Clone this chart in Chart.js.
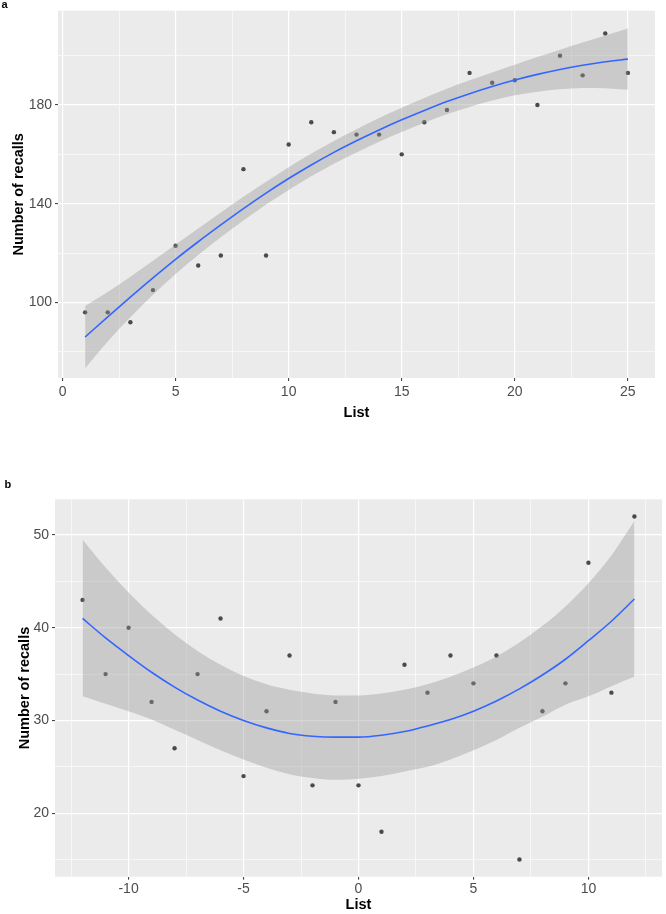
<!DOCTYPE html>
<html>
<head>
<meta charset="utf-8">
<title>Number of recalls by list</title>
<script src="https://cdn.jsdelivr.net/npm/chart.js@4.4.1/dist/chart.umd.min.js"></script>
<style>
  body { margin: 0; background: #fff; }
  #page { position: relative; width: 666px; height: 914px; overflow: hidden; }
  canvas { position: absolute; left: 0; }
  .tag { position: absolute; z-index: 2; font: bold 11px "Liberation Sans", Arial, sans-serif; color: #000; }
</style>
</head>
<body>
<div id="page">
  <canvas id="chartA" width="666" height="430" style="top:0"></canvas>
  <canvas id="chartB" width="666" height="454" style="top:460px"></canvas>
  <div class="tag" style="left:1.5px;top:-2.5px">a</div>
  <div class="tag" style="left:4.5px;top:478px">b</div>
</div>
<script>
// panel a
const listA = [1, 2, 3, 4, 5, 6, 7, 8, 9, 10, 11, 12, 13, 14, 15, 16, 17, 18, 19, 20, 21, 22, 23, 24, 25];
const recallsA = [96, 96, 92, 105, 123, 115, 119, 154, 119, 164, 173, 169, 168, 168, 160, 173, 178, 193, 189, 190, 180, 200, 192, 209, 193];
const fitA = [86.0, 94.2, 102.2, 110.0, 117.5, 124.6, 131.4, 138.0, 144.3, 150.2, 155.7, 160.8, 165.5, 169.9, 174.0, 177.8, 181.4, 184.6, 187.5, 190.1, 192.4, 194.4, 196.1, 197.5, 198.6];
const upperA = [98.6, 104.2, 110.4, 116.9, 123.5, 130.0, 136.4, 142.8, 148.9, 154.8, 160.3, 165.4, 170.2, 174.7, 178.9, 182.8, 186.6, 190.0, 193.2, 196.3, 199.4, 202.4, 205.3, 208.2, 211.0];
const lowerA = [73.4, 84.2, 94.0, 103.1, 111.5, 119.2, 126.4, 133.2, 139.7, 145.6, 151.1, 156.2, 160.8, 165.1, 169.1, 172.8, 176.2, 179.2, 181.8, 183.9, 185.4, 186.4, 186.9, 186.8, 186.2];
const xMajorA = [0, 5, 10, 15, 20, 25];
const xMinorA = [2.5, 7.5, 12.5, 17.5, 22.5];
const yMajorA = [100, 140, 180];
const yMinorA = [80, 120, 160, 200];

// panel b
const listB = [-12, -11, -10, -9, -8, -7, -6, -5, -4, -3, -2, -1, 0, 1, 2, 3, 4, 5, 6, 7, 8, 9, 10, 11, 12];
const recallsB = [43, 35, 40, 32, 27, 35, 41, 24, 31, 37, 23, 32, 23, 18, 36, 33, 37, 34, 37, 15, 31, 34, 47, 33, 52];
const fitB = [41.0, 38.9, 37.0, 35.2, 33.6, 32.2, 31.0, 30.0, 29.2, 28.6, 28.3, 28.2, 28.2, 28.4, 28.8, 29.4, 30.1, 31.0, 32.1, 33.4, 34.9, 36.6, 38.6, 40.7, 43.1];
const upperB = [49.5, 46.5, 43.8, 41.4, 39.3, 37.5, 36.0, 34.8, 33.9, 33.3, 32.9, 32.7, 32.7, 32.9, 33.3, 33.9, 34.7, 35.7, 36.9, 38.4, 40.2, 42.3, 44.8, 47.8, 51.5];
const lowerB = [32.6, 31.8, 31.0, 30.1, 29.0, 27.9, 26.8, 25.8, 24.9, 24.2, 23.8, 23.6, 23.7, 24.0, 24.5, 25.0, 25.8, 26.8, 27.9, 29.2, 30.4, 31.7, 32.6, 33.7, 34.7];
const xMajorB = [-10, -5, 0, 5, 10];
const xMinorB = [-12.5, -7.5, -2.5, 2.5, 7.5, 12.5];
const yMajorB = [20, 30, 40, 50];
const yMinorB = [15, 25, 35, 45];

const FONT = 'Liberation Sans';

// grey panel behind the grid
const panelBg = {
    id: 'panelBg',
    beforeDraw(chart) {
        const ctx = chart.ctx;
        const a = chart.chartArea;
        ctx.save();
        ctx.fillStyle = '#ebebeb';
        ctx.fillRect(a.left, a.top, a.right - a.left, a.bottom - a.top);
        ctx.restore();
    }
};

function toPoints(xs, ys) {
    return xs.map((x, i) => ({ x: x, y: ys[i] }));
}

function isMajor(majors, c) {
    return c.tick && majors.includes(c.tick.value);
}

function axis(o) {
    const all = o.majors.concat(o.minors).sort((a, b) => a - b);
    return {
        type: 'linear',
        position: o.horizontal ? 'bottom' : 'left',
        min: o.min,
        max: o.max,
        afterBuildTicks: s => { s.ticks = all.map(v => ({ value: v })); },
        afterFit: s => {
            if (o.horizontal) s.height = o.size;
            else s.width = o.size;
        },
        border: { display: false },
        grid: {
            color: '#ffffff',
            lineWidth: c => isMajor(o.majors, c) ? 1.2 : 0.6,
            tickLength: 3,
            tickWidth: 1,
            tickColor: c => isMajor(o.majors, c) ? '#333333' : 'rgba(0,0,0,0)'
        },
        ticks: {
            autoSkip: false,
            maxRotation: 0,
            padding: o.tickPad,
            color: '#4d4d4d',
            font: { family: FONT, size: 14, lineHeight: 1.1 },
            callback: v => o.majors.includes(v) ? String(v) : ''
        },
        title: {
            display: true,
            text: o.title,
            color: '#000000',
            font: { family: FONT, size: 14.5, weight: 'bold', lineHeight: 1.2 },
            padding: o.horizontal ? { top: 0, bottom: o.titlePad } : { top: o.titlePad, bottom: 0 }
        }
    };
}

function makeChart(id, xs, ys, fit, upper, lower, xAxis, yAxis, padding) {
    return new Chart(document.getElementById(id), {
        type: 'scatter',
        data: {
            datasets: [
                {
                    type: 'line',
                    data: toPoints(xs, fit),
                    borderColor: '#3366ff',
                    borderWidth: 1.6,
                    pointRadius: 0,
                    cubicInterpolationMode: 'monotone',
                    fill: false,
                    order: 0
                },
                {
                    type: 'line',
                    data: toPoints(xs, upper),
                    borderWidth: 0,
                    borderColor: 'rgba(0,0,0,0)',
                    backgroundColor: 'rgba(153,153,153,0.4)',
                    pointRadius: 0,
                    cubicInterpolationMode: 'monotone',
                    fill: '+1',
                    order: 1
                },
                {
                    type: 'line',
                    data: toPoints(xs, lower),
                    borderWidth: 0,
                    borderColor: 'rgba(0,0,0,0)',
                    pointRadius: 0,
                    cubicInterpolationMode: 'monotone',
                    fill: false,
                    order: 1
                },
                {
                    data: toPoints(xs, ys),
                    pointRadius: 2.2,
                    pointBorderWidth: 0,
                    backgroundColor: '#4a4a4a',
                    order: 2
                }
            ]
        },
        options: {
            responsive: false,
            animation: false,
            layout: { padding: padding },
            plugins: {
                legend: { display: false },
                tooltip: { enabled: false }
            },
            scales: { x: xAxis, y: yAxis }
        },
        plugins: [panelBg]
    });
}

makeChart('chartA', listA, recallsA, fitA, upperA, lowerA,
    axis({ horizontal: true, majors: xMajorA, minors: xMinorA, min: -0.2, max: 26.2, size: 52, tickPad: 3.5, title: 'List', titlePad: 8.5 }),
    axis({ horizontal: false, majors: yMajorA, minors: yMinorA, min: 69.4, max: 218.2, size: 58, tickPad: 3, title: 'Number of recalls', titlePad: 10.3 }),
    { top: 8, right: 11, left: 0, bottom: 0 });

makeChart('chartB', listB, recallsB, fitB, upperB, lowerB,
    axis({ horizontal: true, majors: xMajorB, minors: xMinorB, min: -13.2, max: 13.2, size: 37.3, tickPad: 1.5, title: 'List', titlePad: 0 }),
    axis({ horizontal: false, majors: yMajorB, minors: yMinorB, min: 13.15, max: 53.85, size: 55, tickPad: 3, title: 'Number of recalls', titlePad: 16.3 }),
    { top: 39.3, right: 4, left: 0, bottom: 0 });
</script>
</body>
</html>
